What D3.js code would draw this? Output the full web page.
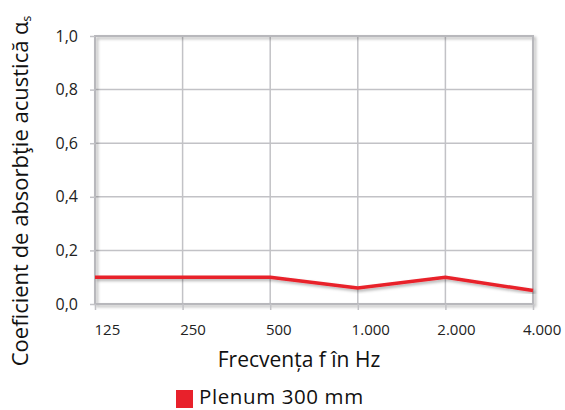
<!DOCTYPE html>
<html><head><meta charset="utf-8">
<script src="https://cdn.jsdelivr.net/npm/d3@7"></script>
<style>body{margin:0;background:#fff}svg{display:block}</style>
</head><body>
<script>
const categories = ["125","250","500","1.000","2.000","4.000"];
const values = [0.10, 0.10, 0.10, 0.06, 0.10, 0.05];
const yTicks = [0,0.2,0.4,0.6,0.8,1.0];
const seriesName = "Plenum 300 mm";

const W=565,H=410;
const m={left:95,right:32,top:36,bottom:106};
const svg=d3.select("body").append("svg").attr("width",W).attr("height",H);
const defs=svg.append("defs");
const f=defs.append("filter").attr("id","sh").attr("x","-10%").attr("y","-10%").attr("width","130%").attr("height","130%");
f.append("feDropShadow").attr("dx",2).attr("dy",2).attr("stdDeviation",1.5).attr("flood-color","#000").attr("flood-opacity",0.3);

const x=d3.scalePoint().domain(categories).range([m.left,W-m.right]);
const y=d3.scaleLinear().domain([0,1]).range([H-m.bottom,m.top]);
const font="'Open Sans', sans-serif";
const grid="#c2c2c6";

svg.append("g").selectAll("line").data(yTicks.slice(1,5)).join("line")
 .attr("x1",m.left).attr("x2",W-m.right).attr("y1",d=>y(d)).attr("y2",d=>y(d))
 .attr("stroke",grid).attr("stroke-width",1.5);
svg.append("g").selectAll("line").data(categories.slice(1,5)).join("line")
 .attr("x1",d=>x(d)).attr("x2",d=>x(d)).attr("y1",m.top).attr("y2",H-m.bottom)
 .attr("stroke",grid).attr("stroke-width",1.5);
svg.append("rect").attr("x",m.left).attr("y",m.top).attr("width",W-m.left-m.right).attr("height",H-m.top-m.bottom)
 .attr("fill","none").attr("stroke","#b8b8bc").attr("stroke-width",2).attr("filter","url(#sh)");

const ya=svg.append("g").attr("transform",`translate(${m.left},0)`)
 .call(d3.axisLeft(y).tickValues(yTicks).tickSize(5).tickPadding(12).tickFormat(d=>d3.format(".1f")(d).replace(".",",")));
ya.select(".domain").remove();
ya.selectAll(".tick line").attr("stroke",grid).attr("stroke-width",1.5);
ya.selectAll("text").attr("font-family",font).attr("font-size",16).attr("fill","#222");

const xa=svg.append("g").attr("transform",`translate(0,${H-m.bottom})`)
 .call(d3.axisBottom(x).tickSize(6).tickPadding(14));
xa.select(".domain").remove();
xa.selectAll(".tick line").attr("stroke",grid).attr("stroke-width",1.5);
xa.selectAll("text").attr("font-family",font).attr("font-size",15).attr("fill","#222")
 .attr("text-anchor","start").attr("dx",(d,i)=>-1-i*1.9);

svg.append("path").datum(values)
 .attr("d",d3.line().x((d,i)=>x(categories[i])).y(d=>y(d)))
 .attr("fill","none").attr("stroke","#e8212b").attr("stroke-width",3.5).attr("filter","url(#sh)");

svg.append("text").attr("x",299).attr("y",367).attr("text-anchor","middle")
 .attr("font-family",font).attr("font-size",21).attr("fill","#111").text("Frecvența f în Hz");
const yt=svg.append("text").attr("transform","translate(28,191) rotate(-90)").attr("text-anchor","middle")
 .attr("font-family",font).attr("font-size",22).attr("fill","#111");
yt.append("tspan").text("Coeficient de absorbţie acustică α");
yt.append("tspan").attr("font-size",12).attr("dy",3).text("s");

svg.append("rect").attr("x",176).attr("y",390).attr("width",17).attr("height",18).attr("fill","#e8212b");
svg.append("text").attr("x",199).attr("y",404).attr("font-family",font).attr("font-size",20.5)
 .attr("letter-spacing",0.6).attr("fill","#111").text(seriesName);
</script>
</body></html>
